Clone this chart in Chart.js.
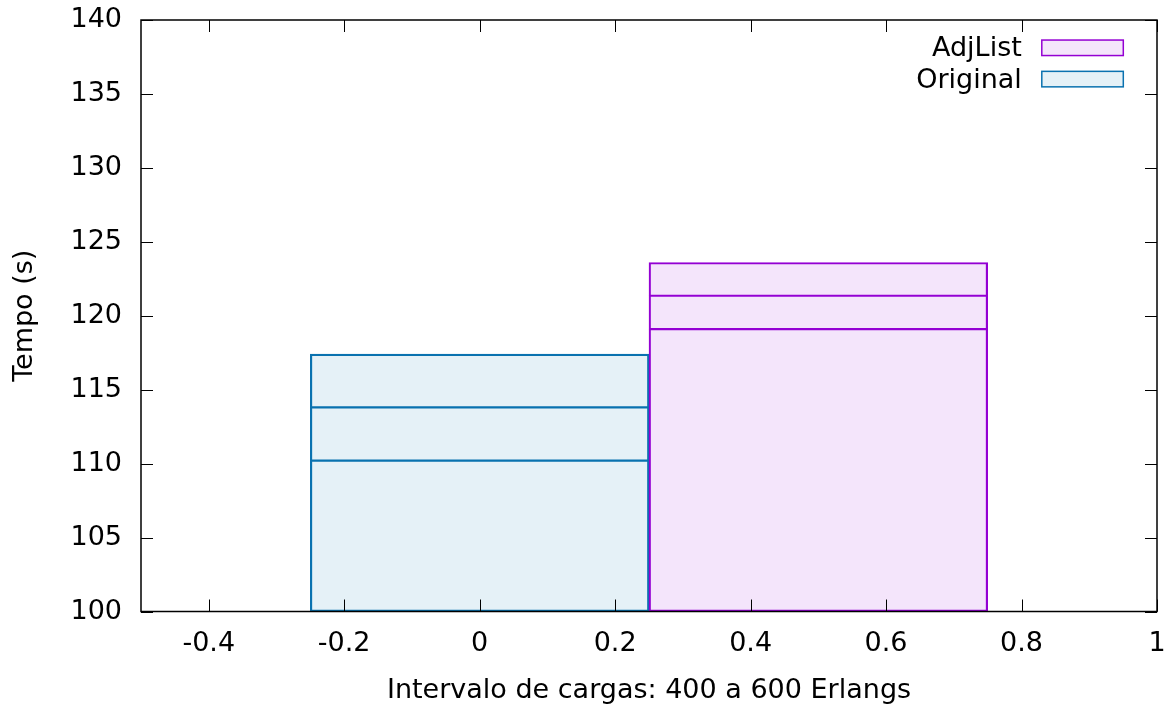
<!DOCTYPE html>
<html>
<head>
<meta charset="utf-8">
<script src="https://cdn.jsdelivr.net/npm/chart.js@4/dist/chart.umd.min.js"></script>
<style>
  html, body { margin: 0; padding: 0; background: #fff; }
  #wrap { width: 1174px; height: 709px; }
</style>
</head>
<body>
<div id="wrap"><canvas id="chart"></canvas></div>
<script>
// Series, listed in key order (first one drawn on top)
const seriesNames = ['AdjList', 'Original'];
const seriesCenters = [0.5, 0];
const ciLower = [119.1, 110.2];
const meanTime = [121.35, 113.8];
const ciUpper = [123.6, 117.4];
const baseValue = 100;

// Axis ticks
const xTickValues = [-0.4, -0.2, 0, 0.2, 0.4, 0.6, 0.8, 1];
const xTickLabels = ['-0.4', '-0.2', '0', '0.2', '0.4', '0.6', '0.8', '1'];
const yTickValues = [100, 105, 110, 115, 120, 125, 130, 135, 140];

const xTitle = 'Intervalo de cargas: 400 a 600 Erlangs';
const yTitle = 'Tempo (s)';

const lineColors = ['#9400d3', '#0a72b0'];
const fillColors = ['rgba(148,0,211,0.1)', 'rgba(0,114,178,0.1)'];

const FONT_SIZE = 27;
Chart.defaults.font.family = "'DejaVu Sans', sans-serif";
Chart.defaults.font.size = FONT_SIZE;
Chart.defaults.color = '#000';

// Each series is a box split at the CI lower bound and the mean
const datasets = seriesNames.map((name, i) => {
  const cuts = [baseValue, ciLower[i], meanTime[i], ciUpper[i]];
  return {
    label: name,
    xAxisID: 'xb',
    yAxisID: 'y',
    data: [0, 1, 2].map(k => ({ x: seriesCenters[i], y: [cuts[k], cuts[k + 1]] })),
    backgroundColor: fillColors[i],
    borderColor: lineColors[i],
    borderSkipped: false,
    borderWidth: (c) => ({
      left: 1.5, right: 1.5,
      top: c.dataIndex === 2 ? 1.5 : 0.75,
      bottom: c.dataIndex === 0 ? 1.5 : 0.75
    }),
    grouped: false,
    barPercentage: 1,
    categoryPercentage: 1
  };
});

const TICK_LEN = 12;

// Frame around the plot with inward ticks on all four sides
const framePlugin = {
  id: 'frame',
  afterDatasetsDraw(chart) {
    const { ctx, chartArea: a, scales } = chart;
    ctx.save();
    ctx.strokeStyle = '#000';
    ctx.lineWidth = 1;
    ctx.beginPath();
    scales.x.ticks.forEach(t => {
      const px = Math.round(scales.x.getPixelForValue(t.value)) + 0.5;
      ctx.moveTo(px, a.bottom); ctx.lineTo(px, a.bottom - TICK_LEN);
      ctx.moveTo(px, a.top); ctx.lineTo(px, a.top + TICK_LEN);
    });
    scales.y.ticks.forEach(t => {
      const py = Math.round(scales.y.getPixelForValue(t.value)) + 0.5;
      ctx.moveTo(a.left, py); ctx.lineTo(a.left + TICK_LEN, py);
      ctx.moveTo(a.right, py); ctx.lineTo(a.right - TICK_LEN, py);
    });
    ctx.stroke();
    ctx.lineWidth = 1.5;
    ctx.strokeRect(a.left, a.top, a.right - a.left, a.bottom - a.top);
    ctx.restore();
  }
};

// Key in the top-right corner: label text, then a sample box
const keyPlugin = {
  id: 'key',
  afterDraw(chart) {
    const { ctx, chartArea: a } = chart;
    const boxW = 81.5, boxH = 15.5;
    const boxRight = a.right - 33.7;
    const textRight = boxRight - boxW - 20;
    ctx.save();
    ctx.font = FONT_SIZE + "px 'DejaVu Sans', sans-serif";
    ctx.textAlign = 'right';
    ctx.textBaseline = 'middle';
    chart.data.datasets.forEach((ds, i) => {
      const cy = a.top + 27.8 + i * 31.3;
      ctx.fillStyle = '#000';
      ctx.fillText(ds.label, textRight, cy + 1.5);
      ctx.fillStyle = '#fff';
      ctx.fillRect(boxRight - boxW, cy - boxH / 2, boxW, boxH);
      ctx.fillStyle = ds.backgroundColor;
      ctx.fillRect(boxRight - boxW, cy - boxH / 2, boxW, boxH);
      ctx.strokeStyle = ds.borderColor;
      ctx.lineWidth = 1.5;
      ctx.strokeRect(boxRight - boxW, cy - boxH / 2, boxW, boxH);
    });
    ctx.restore();
  }
};

const noEdgePadding = (s) => {
  s.paddingTop = 0; s.paddingBottom = 0; s.paddingLeft = 0; s.paddingRight = 0;
};

new Chart(document.getElementById('chart'), {
  type: 'bar',
  data: { datasets },
  plugins: [framePlugin, keyPlugin],
  options: {
    responsive: true,
    maintainAspectRatio: false,
    animation: false,
    layout: { padding: { top: 20, right: 17, left: 0, bottom: 0 } },
    plugins: { legend: { display: false }, tooltip: { enabled: false } },
    scales: {
      xb: {
        type: 'linear', axis: 'x', display: false, offset: false,
        min: -0.5, max: 1,
        ticks: { stepSize: 0.5 }
      },
      x: {
        type: 'linear', axis: 'x', position: 'bottom', offset: false,
        min: -0.5, max: 1,
        afterBuildTicks: (s) => { s.ticks = xTickValues.map(v => ({ value: v })); },
        afterFit: (s) => { s.height = 97.5; noEdgePadding(s); },
        ticks: {
          autoSkip: false, maxRotation: 0, padding: 8,
          callback: (v) => xTickLabels[xTickValues.indexOf(v)]
        },
        grid: { display: false },
        border: { display: false },
        title: { display: true, text: xTitle, padding: { top: 0, bottom: 2 } }
      },
      y: {
        type: 'linear', position: 'left',
        min: 100, max: 140,
        afterBuildTicks: (s) => { s.ticks = yTickValues.map(v => ({ value: v })); },
        afterFit: (s) => { s.width = 141; noEdgePadding(s); },
        ticks: { padding: 11 },
        grid: { display: false },
        border: { display: false },
        title: { display: true, text: yTitle, padding: { top: 9, bottom: 0 } }
      }
    }
  }
});
</script>
</body>
</html>
